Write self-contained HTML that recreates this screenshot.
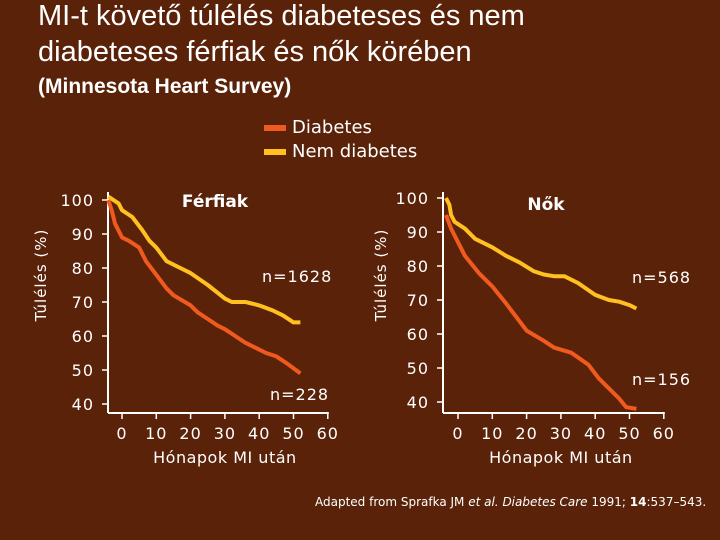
<!DOCTYPE html>
<html><head><meta charset="utf-8"><style>
body{margin:0;background:#5a2209;}
#c{position:relative;width:720px;height:540px;background:#5a2209;overflow:hidden;font-family:"Liberation Sans",sans-serif;color:#fff}
.t{position:absolute;white-space:nowrap}
</style></head><body>
<div id="c">
<div class="t" style="left:38px;top:-2px;font-size:29px;line-height:36px">MI-t követő túlélés diabeteses és nem<br>diabeteses férfiak és nők körében</div>
<div class="t" style="left:38px;top:75px;font-size:21px;font-weight:bold">(Minnesota Heart Survey)</div>
<div style="position:absolute;left:264px;top:125px;width:22px;height:6px;background:#f05a1e"></div>
<div class="t" style="left:292px;top:117px;font-size:18px;font-family:'DejaVu Sans',sans-serif">Diabetes</div>
<div style="position:absolute;left:264px;top:149px;width:22px;height:6px;background:#ffc020"></div>
<div class="t" style="left:292px;top:141px;font-size:18px;font-family:'DejaVu Sans',sans-serif">Nem diabetes</div>
<svg id="s" width="720" height="540" style="position:absolute;left:0;top:0" font-family="DejaVu Sans, sans-serif"></svg>
<div class="t" style="left:315px;top:495px;font-size:12px;font-family:'DejaVu Sans',sans-serif">Adapted from Sprafka JM <i>et al. Diabetes Care</i> 1991; <b>14</b>:537–543.</div>
</div>
<script>
const yTicks=[40,50,60,70,80,90,100];
const xTicks=[0,10,20,30,40,50,60];
const menDiabMonths=[-4,-3,-2,0,2,5,7,10,13,15,20,22,25,28,30,33,36,40,42,45,48,52];
const menDiabSurv=[100,97,93,89,88,86,82,78,74,72,69,67,65,63,62,60,58,56,55,54,52,49];
const menNoMonths=[-4,-1,0,3,6,8,10,13,17,20,25,30,32,36,40,44,47,50,52];
const menNoSurv=[101,99,97,95,91,88,86,82,80,78.5,75,71,70,70,69,67.5,66,64,64];
const womNoMonths=[-3.5,-2.5,-2,-1,2,5,10,14,18,22,25,28,31,35,40,44,47,50,52];
const womNoSurv=[100,98,95,93,91,88,85.5,83,81,78.5,77.5,77,77,75,71.5,70,69.5,68.5,67.5];
const womDiabMonths=[-3.5,-2,0,2,6,10,14,17,20,25,28,33,38,41,44,47,49,52];
const womDiabSurv=[95,91,87,83,78,74,69,65,61,58,56,54.5,51,47,44,41,38.5,38];
const panels=[
 {name:'ferfiak',title:'Férfiak',ax:108,x0:122,ty:200,ttx:215,tty:207,
  series:[[menNoMonths,menNoSurv,'#ffc020','nem-diabetes'],[menDiabMonths,menDiabSurv,'#f05a1e','diabetes']],
  nl:[['n=1628',262,282],['n=228',270,400]],ytitleX:40},
 {name:'nok',title:'Nők',ax:443,x0:458,ty:198,ttx:546,tty:210,
  series:[[womNoMonths,womNoSurv,'#ffc020','nem-diabetes'],[womDiabMonths,womDiabSurv,'#f05a1e','diabetes']],
  nl:[['n=568',632,283],['n=156',632,385]],ytitleX:380}];
const s=document.getElementById('s');const NS='http://www.w3.org/2000/svg';
function mk(t,a,txt){const e=document.createElementNS(NS,t);for(const k in a)e.setAttribute(k,a[k]);if(txt!=null)e.textContent=txt;s.appendChild(e);return e;}
panels.forEach(p=>{
 const X=m=>p.x0+m*3.43, Y=v=>p.ty+(100-v)*3.4, bot=413;
 let e=mk('line',{x1:p.ax,y1:192,x2:p.ax,y2:bot,stroke:'#fff','stroke-width':2});
 
 e=mk('line',{x1:p.ax,y1:bot,x2:X(60)+1,y2:bot,stroke:'#fff','stroke-width':2});
 
 yTicks.forEach(v=>{mk('line',{x1:p.ax-6,y1:Y(v),x2:p.ax,y2:Y(v),stroke:'#fff','stroke-width':1.5});
  e=mk('text',{x:p.ax-14,y:Y(v)+6,'text-anchor':'end','font-size':16,fill:'#fff','letter-spacing':1},v);
  });
 xTicks.forEach(v=>{mk('line',{x1:X(v),y1:bot,x2:X(v),y2:bot+6,stroke:'#fff','stroke-width':1.5});
  e=mk('text',{x:X(v),y:439,'text-anchor':'middle','font-size':16,fill:'#fff','letter-spacing':1},v);
  });
 e=mk('text',{x:(X(0)+X(60))/2,y:463,'text-anchor':'middle','font-size':16,fill:'#fff','letter-spacing':0.5},'Hónapok MI után');
 
 e=mk('text',{x:p.ytitleX+6,y:275,'text-anchor':'middle','font-size':15,fill:'#fff','letter-spacing':1,transform:`rotate(-90 ${p.ytitleX+6} 275)`},'Túlélés (%)');
 
 e=mk('text',{x:p.ttx,y:p.tty,'text-anchor':'middle','font-size':17,'font-weight':'bold',fill:'#fff'},p.title);
 
 p.series.forEach(sr=>{const pts=sr[0].map((m,i)=>X(m).toFixed(1)+','+Y(sr[1][i]).toFixed(1)).join(' ');
  e=mk('polyline',{points:pts,fill:'none',stroke:sr[2],'stroke-width':4,'stroke-linejoin':'round'});
  });
 p.nl.forEach(n=>{e=mk('text',{x:n[1],y:n[2],'font-size':16,fill:'#fff','letter-spacing':1},n[0]);
  });
});
</script>
</body></html>
